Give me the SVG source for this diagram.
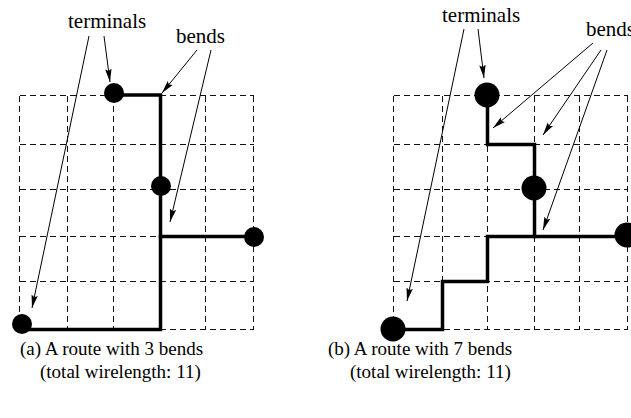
<svg xmlns="http://www.w3.org/2000/svg" width="631" height="418" viewBox="0 0 631 418">
<defs>
<marker id="ah" markerUnits="userSpaceOnUse" markerWidth="14" markerHeight="10" refX="13" refY="5" orient="auto" viewBox="0 0 14 10">
<path d="M0,1.8 L13,5 L0,8.2 L2,5 Z" fill="#000"/>
</marker>
</defs>
<style>
.grid{fill:none;stroke:#111;stroke-width:1;stroke-dasharray:6 4;shape-rendering:crispEdges}
.route{fill:none;stroke:#000;stroke-width:3.5;stroke-linejoin:miter;stroke-linecap:square}
.ptr{fill:none;stroke:#000;stroke-width:1;marker-end:url(#ah)}
.lbl{font-family:"Liberation Serif","Times New Roman",serif;font-size:21px;fill:#000}
.cap{font-family:"Liberation Serif","Times New Roman",serif;font-size:19px;fill:#000}
.term{fill:#000}
</style>
<g id="grid-a">
<path class="grid" d="M19.5,95.5H253.5M19.5,144.5H253.5M19.5,189.5H253.5M19.5,236.5H253.5M19.5,281.5H253.5M19.5,329.5H253.5M19.5,95.5V329.5M67.5,95.5V329.5M113.5,95.5V329.5M160.5,95.5V329.5M205.5,95.5V329.5M253.5,95.5V329.5"/>
</g>
<g id="grid-b">
<path class="grid" d="M393.5,95.5H627.5M393.5,144.5H627.5M393.5,189.5H627.5M393.5,236.5H627.5M393.5,281.5H627.5M393.5,329.5H627.5M393.5,95.5V329.5M442.5,95.5V329.5M487.5,95.5V329.5M534.5,95.5V329.5M579.5,95.5V329.5M627.5,95.5V329.5"/>
</g>
<g id="route-a">
<path class="route" d="M113,95H160.5V329.5H22"/>
<path class="route" d="M160.5,236.5H253"/>
</g>
<g id="route-b">
<path class="route" d="M487.5,95V144.5H534.5V236.5"/>
<path class="route" d="M393,329.5H442.5V281.5H487.5V236.5H627"/>
</g>
<g id="terminals-a">
<circle class="term" cx="114" cy="93" r="10"/>
<circle class="term" cx="161" cy="186" r="10"/>
<circle class="term" cx="254" cy="237" r="10"/>
<circle class="term" cx="22" cy="324" r="10"/>
</g>
<g id="terminals-b">
<circle class="term" cx="487" cy="95" r="12.5"/>
<circle class="term" cx="534" cy="188" r="12.5"/>
<circle class="term" cx="627" cy="235" r="12.5"/>
<circle class="term" cx="393" cy="329" r="12.5"/>
</g>
<g id="connectors">
<line class="ptr" x1="89" y1="36" x2="32" y2="308"/>
<line class="ptr" x1="104" y1="36" x2="110" y2="82"/>
<line class="ptr" x1="197" y1="50" x2="162" y2="93"/>
<line class="ptr" x1="211" y1="50" x2="170" y2="222"/>
<line class="ptr" x1="464" y1="29" x2="407" y2="301"/>
<line class="ptr" x1="478" y1="29" x2="484" y2="78"/>
<line class="ptr" x1="593" y1="43" x2="493" y2="128"/>
<line class="ptr" x1="601" y1="50" x2="543" y2="135"/>
<line class="ptr" x1="607" y1="50" x2="543" y2="230"/>
</g>
<g id="labels">
<text class="lbl" x="68" y="28">terminals</text>
<text class="lbl" x="176" y="43">bends</text>
<text class="lbl" x="442" y="22">terminals</text>
<text class="lbl" x="586" y="36">bends</text>
</g>
<g id="captions">
<text class="cap" x="20" y="355">(a) A route with 3 bends</text>
<text class="cap" x="40" y="378">(total wirelength: 11)</text>
<text class="cap" x="328" y="355">(b) A route with 7 bends</text>
<text class="cap" x="350" y="378">(total wirelength: 11)</text>
</g>
</svg>
